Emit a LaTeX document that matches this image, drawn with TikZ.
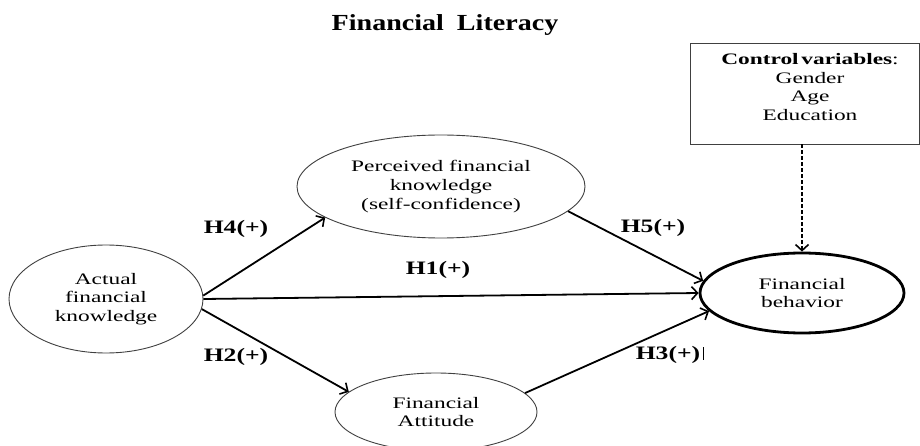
\documentclass[tikz,border=0pt]{standalone}
\usepackage{fontspec}
\setmainfont{Liberation Serif}
\newfontfamily\wideserif[FakeStretch=1.46]{Liberation Serif}
\newfontfamily\widebold[FakeStretch=1.35,BoldFont={Liberation Serif Bold}]{Liberation Serif}
\newfontfamily\titlebold[FakeStretch=1.22]{Liberation Serif Bold}
\usetikzlibrary{shapes.geometric,arrows.meta}
\tikzset{
  construct/.style={ellipse, draw=black!75, line width=0.9pt, inner sep=0pt, align=center,
    font=\wideserif\fontsize{16}{18.7}\selectfont},
  outcome/.style={construct, draw=black, line width=2.8pt},
  ctrlbox/.style={draw=black!75, line width=0.9pt, inner sep=0pt, align=center,
    font=\wideserif\fontsize{16}{18.7}\selectfont},
  hyp/.style={font=\widebold\bfseries\fontsize{19}{22}\selectfont, inner sep=0pt},
  path/.style={line width=1.8pt, -{Straight Barb[length=6pt,width=13pt,line width=1.6pt]}},
  ctrlpath/.style={line width=1.8pt, dash pattern=on 4pt off 2pt, -{Straight Barb[length=6pt,width=13pt,line width=1.6pt]}}
}
\begin{document}
\begin{tikzpicture}[x=1pt,y=-1pt]
\useasboundingbox (0,0) rectangle (920,446);
\clip (0,0) rectangle (920,446);
\fill[white] (0,0) rectangle (920,446);

\node[font=\titlebold\fontsize{23}{26}\selectfont, inner sep=0pt] (title) at (445,25) {Financial\hspace{6pt} Literacy};

\node[ctrlbox, minimum width=229pt, minimum height=101pt] (ctrl) at (804.5,93.5) {};
\node[ctrlbox, draw=none, anchor=north] (ctrltext) at (810,53) {{\bfseries Control\,variables}:\\Gender\\Age\\Education};

\node[construct, minimum width=194pt, minimum height=108pt] (afk) at (106,299) {Actual\\financial\\knowledge};
\node[construct, minimum width=288pt, minimum height=103pt] (pfk) at (441,186.5) {Perceived financial\\knowledge\\(self-confidence)};
\node[construct, minimum width=202pt, minimum height=78pt] (fa) at (436,412) {Financial\\Attitude};
\node[outcome, minimum width=204pt, minimum height=80pt] (fb) at (802,293) {Financial\\behavior};

\draw[path] (afk.2) -- (pfk.-165);
\draw[path] (afk.east) -- (fb.180);
\draw[path] (afk.-6) -- (fa.167);
\draw[path] (pfk.-11) -- (fb.173);
\draw[path] (fa.12) -- (fb.-169);
\draw[ctrlpath] (ctrl.south -| fb.north) -- (fb.north);

\node[hyp] (h4) at (236,229) {H4(+)};
\node[hyp] (h1) at (438,270) {H1(+)};
\node[hyp] (h2) at (236,357) {H2(+)};
\node[hyp] (h5) at (653,228) {H5(+)};
\node[hyp] (h3) at (668,355) {H3(+)};
\draw[line width=1.6pt] ([xshift=3pt,yshift=-1pt]h3.north east) -- ([xshift=3pt,yshift=4pt]h3.south east);
\end{tikzpicture}
\end{document}
